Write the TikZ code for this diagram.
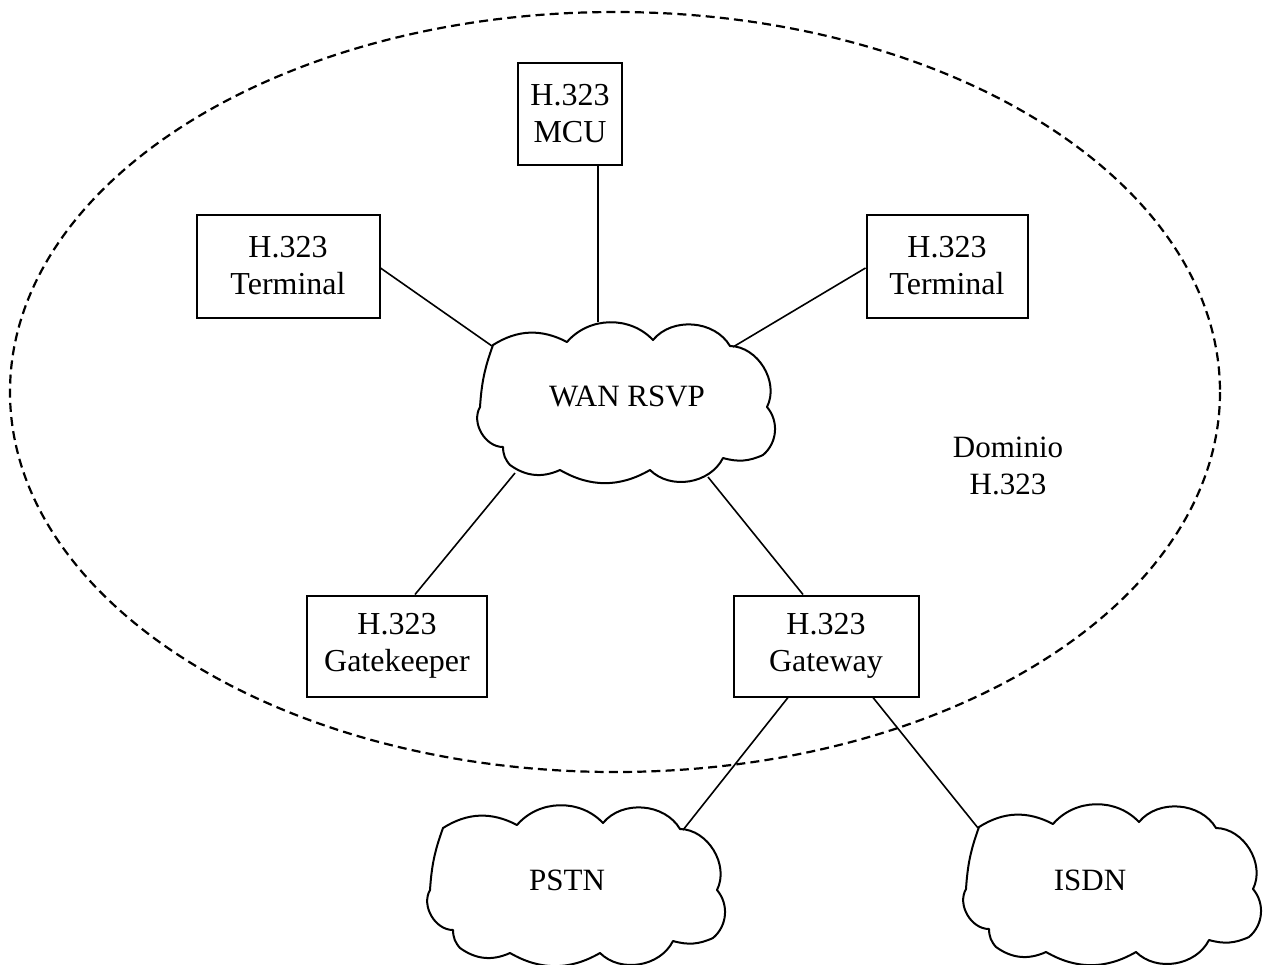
\documentclass[tikz,border=0pt]{standalone}
\usepackage{fontspec}
\setmainfont{Liberation Serif}
\begin{document}
\begin{tikzpicture}[x=0.5pt,y=-0.5pt,
  txt/.style={font=\fontsize{15.5}{18.5}\selectfont},
  box/.style={font=\fontsize{16}{18.5}\selectfont, draw, line width=1pt, align=center, inner sep=0pt},
  lbl/.style={txt, align=center, inner sep=0pt},
  link/.style={line width=0.8pt},
  zoneline/.style={line width=1.1pt, dash pattern=on 4.5pt off 2.6pt},
  cloudedge/.style={line width=1pt, line join=round},
  netcloud/.pic={
    \draw[cloudedge] (-132,-57) to[bend left=30] (-58,-60) to[bend left=48] (28,-62)
      to[bend left=55] (105,-56) to[bend left=58] (142,5) to[bend left=45] (138,53)
      to[bend left=20] (98,56) to[bend left=54] (25,68) to[bend left=30] (-65,68)
      to[bend left=30] (-115,63) to[bend left=20] (-122,45) to[bend left=60] (-145,5)
      to[bend left=8] (-132,-57) -- cycle;
    \coordinate (-n)  at (-27,-80);
    \coordinate (-nw) at (-133,-56);
    \coordinate (-ne) at (108,-55);
    \coordinate (-sw) at (-110,71);
    \coordinate (-se) at (83,75);
  }
]
\clip (0,0) rectangle (1271,965);

% H.323 domain boundary
\draw[zoneline] (615,392) ellipse [x radius=605, y radius=380];
\node[lbl] (dom) at (1008,466) {Dominio\\H.323};

% networks
\pic (wanc)  at (625,402) {netcloud};
\pic (pstnc) at (575,885) {netcloud};
\pic (isdnc) at (1111,884) {netcloud};
\node[lbl] (wan)  at (627,396) {WAN RSVP};
\node[lbl] (pstn) at (567,880) {PSTN};
\node[lbl] (isdn) at (1090,880) {ISDN};

% H.323 endpoints and entities
\node[box, minimum width=52pt,   minimum height=51pt]   (mcu)   at (570,114) {H.323\\MCU};
\node[box, minimum width=91.5pt, minimum height=51.5pt] (terml) at (288,266) {H.323\\Terminal};
\node[box, minimum width=80.5pt, minimum height=51.5pt] (termr) at (947,266) {H.323\\Terminal};
\node[box, minimum width=90pt,   minimum height=50.5pt] (gk)    at (397,646) {H.323\\Gatekeeper};
\node[box, minimum width=92.5pt, minimum height=50.5pt] (gw)    at (826,646) {H.323\\Gateway};

% links
\draw[link] (mcu.south -| wanc-n) -- (wanc-n);
\draw[link] ([yshift=-1pt]terml.east) -- (wanc-nw);
\draw[link] ([yshift=-1pt]termr.west) -- (wanc-ne);
\draw[link] ([xshift=9pt]gk.north) -- (wanc-sw);
\draw[link] ([xshift=-11.5pt]gw.north) -- (wanc-se);
\draw[link] ([xshift=-19pt]gw.south) -- (pstnc-ne);
\draw[link] ([xshift=23.5pt]gw.south) -- (isdnc-nw);
\end{tikzpicture}
\end{document}
